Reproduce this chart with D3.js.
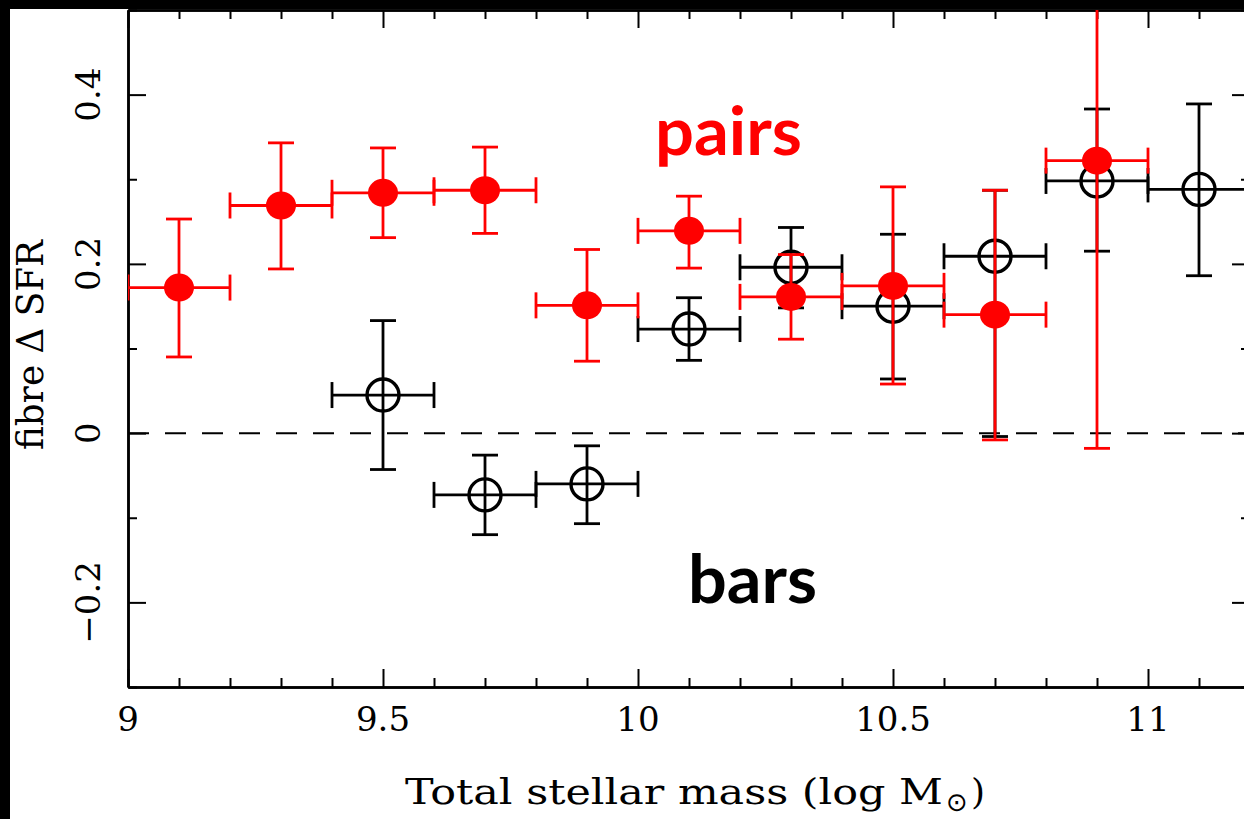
<!DOCTYPE html>
<html>
<head>
<meta charset="utf-8">
<script src="https://cdn.jsdelivr.net/npm/d3@7"></script>
<style>
  html, body { margin: 0; padding: 0; background: #000; }
  svg { display: block; }
</style>
</head>
<body>
<svg id="chart" width="1244" height="819"></svg>
<script>
// ---- data ----
const xMajorTicks = [9, 9.5, 10, 10.5, 11];
const xMajorLabels = ["9", "9.5", "10", "10.5", "11"];
const yMajorTicks = [-0.2, 0, 0.2, 0.4];
const yMajorLabels = ["\u22120.2", "0", "0.2", "0.4"];

const pairsX    = [9.1, 9.3, 9.5, 9.7, 9.9, 10.1, 10.3, 10.5, 10.7, 10.9];
const pairsXErr = [0.1, 0.1, 0.1, 0.1, 0.1, 0.1, 0.1, 0.1, 0.1, 0.1];
const pairsY    = [0.172, 0.269, 0.284, 0.287, 0.151, 0.239, 0.161, 0.174, 0.140, 0.322];
const pairsLo   = [0.090, 0.194, 0.231, 0.236, 0.085, 0.195, 0.111, 0.058, -0.008, -0.018];
const pairsHi   = [0.253, 0.343, 0.337, 0.338, 0.217, 0.280, 0.211, 0.291, 0.287, 0.660];

const barsX    = [9.5, 9.7, 9.9, 10.1, 10.3, 10.5, 10.7, 10.9, 11.1];
const barsXErr = [0.1, 0.1, 0.1, 0.1, 0.1, 0.1, 0.1, 0.1, 0.1];
const barsY    = [0.045, -0.073, -0.060, 0.123, 0.196, 0.150, 0.209, 0.298, 0.288];
const barsLo   = [-0.043, -0.120, -0.107, 0.086, 0.148, 0.064, -0.004, 0.215, 0.186];
const barsHi   = [0.133, -0.026, -0.015, 0.160, 0.243, 0.235, 0.287, 0.383, 0.389];

// ---- layout ----
const svg = d3.select("#chart");
const W = 1244, H = 819;
const L = 128, R = 1250, T = 10, B = 687;

svg.append("rect").attr("x", 0).attr("y", 0).attr("width", W).attr("height", H).attr("fill", "#000");
svg.append("rect").attr("x", 10).attr("y", 9).attr("width", W - 10).attr("height", H - 9).attr("fill", "#fff");

const x = d3.scaleLinear().domain([9, 11.2]).range([L, R]);
const y = d3.scaleLinear().domain([-0.3, 0.5]).range([B, T]);

const serif = "'DejaVu Serif', 'Liberation Serif', serif";
const comic = "'Comic Sans MS', 'Lato', 'Open Sans', sans-serif";

// clip
svg.append("clipPath").attr("id", "plotclip").append("rect")
  .attr("x", L).attr("y", T).attr("width", R - L).attr("height", B - T);

// zero line
svg.append("line")
  .attr("x1", L).attr("x2", R).attr("y1", y(0)).attr("y2", y(0))
  .attr("stroke", "#000").attr("stroke-width", 2).attr("stroke-dasharray", "21,16");

// ---- axes ----
const majorLen = 18, minorLen = 9;
const xMinor = d3.range(9, 11.2001, 0.1).map(v => +v.toFixed(2)).filter(v => !xMajorTicks.some(m => Math.abs(m - v) < 1e-6));
const yMinor = d3.range(-0.3, 0.5001, 0.1).map(v => +v.toFixed(2)).filter(v => !yMajorTicks.some(m => Math.abs(m - v) < 1e-6));

function styleAxis(g) {
  g.selectAll("path").attr("stroke", "#000").attr("stroke-width", 2.5);
  g.selectAll("line").attr("stroke", "#000").attr("stroke-width", 2);
  g.selectAll("text").remove();
}

// bottom
svg.append("g").attr("transform", `translate(0,${B})`)
  .call(d3.axisBottom(x).tickValues(xMajorTicks).tickSizeInner(-majorLen).tickSizeOuter(0)).call(styleAxis);
svg.append("g").attr("transform", `translate(0,${B})`)
  .call(d3.axisBottom(x).tickValues(xMinor).tickSizeInner(-minorLen).tickSizeOuter(0)).call(styleAxis);
// top
svg.append("g").attr("transform", `translate(0,${T})`)
  .call(d3.axisTop(x).tickValues(xMajorTicks).tickSizeInner(-majorLen).tickSizeOuter(0)).call(styleAxis);
svg.append("g").attr("transform", `translate(0,${T})`)
  .call(d3.axisTop(x).tickValues(xMinor).tickSizeInner(-minorLen).tickSizeOuter(0)).call(styleAxis);
// left
svg.append("g").attr("transform", `translate(${L},0)`)
  .call(d3.axisLeft(y).tickValues(yMajorTicks).tickSizeInner(-majorLen).tickSizeOuter(0)).call(styleAxis);
svg.append("g").attr("transform", `translate(${L},0)`)
  .call(d3.axisLeft(y).tickValues(yMinor).tickSizeInner(-minorLen).tickSizeOuter(0)).call(styleAxis);
// right
svg.append("g").attr("transform", `translate(${R},0)`)
  .call(d3.axisRight(y).tickValues(yMajorTicks).tickSizeInner(-majorLen).tickSizeOuter(0)).call(styleAxis);
svg.append("g").attr("transform", `translate(${R},0)`)
  .call(d3.axisRight(y).tickValues(yMinor).tickSizeInner(-minorLen).tickSizeOuter(0)).call(styleAxis);

// tick labels
svg.append("g").selectAll("text").data(xMajorTicks).join("text")
  .attr("x", d => x(d)).attr("y", 731)
  .attr("text-anchor", "middle")
  .attr("font-family", serif).attr("font-size", 34)
  .text((d, i) => xMajorLabels[i]);

svg.append("g").selectAll("text").data(yMajorTicks).join("text")
  .attr("transform", d => `translate(100,${y(d)}) rotate(-90)`)
  .attr("text-anchor", "middle")
  .attr("font-family", serif).attr("font-size", 34)
  .text((d, i) => yMajorLabels[i]);

// axis titles
svg.append("text")
  .attr("x", 405).attr("y", 804)
  .attr("font-family", serif).attr("font-size", 36)
  .attr("textLength", 538).attr("lengthAdjust", "spacingAndGlyphs")
  .text("Total stellar mass (log M");
svg.append("text")
  .attr("x", 957).attr("y", 811)
  .attr("text-anchor", "middle")
  .attr("font-family", "'DejaVu Sans', sans-serif").attr("font-size", 26)
  .text("\u2299");
svg.append("text")
  .attr("x", 971).attr("y", 804)
  .attr("font-family", serif).attr("font-size", 36)
  .text(")");

svg.append("text")
  .attr("transform", "translate(43,345) rotate(-90)")
  .attr("text-anchor", "middle")
  .attr("font-family", serif).attr("font-size", 37)
  .attr("textLength", 210).attr("lengthAdjust", "spacingAndGlyphs")
  .text("fibre \u0394 SFR");

// ---- data marks ----
const plot = svg.append("g").attr("clip-path", "url(#plotclip)");
const cap = 13;

function drawSeries(xs, xe, ys, lo, hi, color, filled) {
  const data = xs.map((d, i) => ({ x: d, xe: xe[i], y: ys[i], lo: lo[i], hi: hi[i] }));
  const g = plot.append("g").attr("stroke", color).attr("stroke-width", 2.8).attr("fill", "none");
  data.forEach(d => {
    const cx = x(d.x), cy = y(d.y);
    // vertical error
    g.append("line").attr("x1", cx).attr("x2", cx).attr("y1", y(d.lo)).attr("y2", y(d.hi));
    g.append("line").attr("x1", cx - cap).attr("x2", cx + cap).attr("y1", y(d.lo)).attr("y2", y(d.lo));
    g.append("line").attr("x1", cx - cap).attr("x2", cx + cap).attr("y1", y(d.hi)).attr("y2", y(d.hi));
    // horizontal error
    const xl = x(d.x - d.xe), xr = x(d.x + d.xe);
    g.append("line").attr("x1", xl).attr("x2", xr).attr("y1", cy).attr("y2", cy);
    g.append("line").attr("x1", xl).attr("x2", xl).attr("y1", cy - cap).attr("y2", cy + cap);
    g.append("line").attr("x1", xr).attr("x2", xr).attr("y1", cy - cap).attr("y2", cy + cap);
  });
  if (filled) {
    g.selectAll("ellipse").data(data).join("ellipse")
      .attr("cx", d => x(d.x)).attr("cy", d => y(d.y))
      .attr("rx", 15).attr("ry", 14)
      .attr("fill", color).attr("stroke", "none");
  } else {
    g.selectAll("circle").data(data).join("circle")
      .attr("cx", d => x(d.x)).attr("cy", d => y(d.y))
      .attr("r", 16).attr("fill", "none").attr("stroke", color).attr("stroke-width", 3.4);
  }
}

drawSeries(barsX, barsXErr, barsY, barsLo, barsHi, "#000", false);
drawSeries(pairsX, pairsXErr, pairsY, pairsLo, pairsHi, "#ff0000", true);

// annotations
svg.append("text")
  .attr("x", 655).attr("y", 155)
  .attr("font-family", comic).attr("font-weight", "bold").attr("font-size", 66)
  .attr("fill", "#ff0000")
  .attr("textLength", 147).attr("lengthAdjust", "spacingAndGlyphs")
  .text("pairs");
svg.append("text")
  .attr("x", 688).attr("y", 603)
  .attr("font-family", comic).attr("font-weight", "bold").attr("font-size", 66)
  .attr("fill", "#000")
  .attr("textLength", 129).attr("lengthAdjust", "spacingAndGlyphs")
  .text("bars");
</script>
</body>
</html>
